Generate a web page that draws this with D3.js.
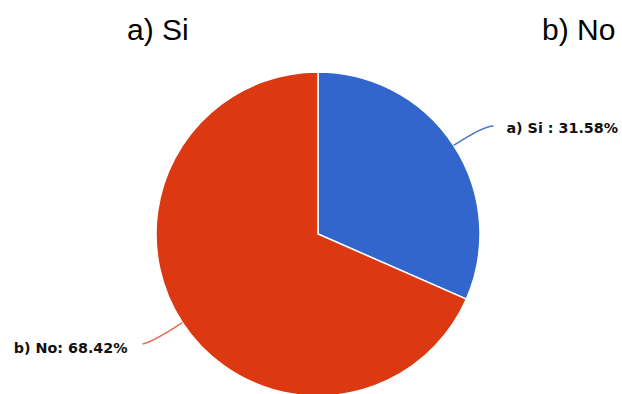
<!DOCTYPE html>
<html>
<head>
<meta charset="utf-8">
<script src="https://cdn.jsdelivr.net/npm/d3@7"></script>
<style>
  html, body { margin: 0; padding: 0; background: #fff; }
  svg { display: block; }
</style>
</head>
<body>
<svg id="chart" width="622" height="394"></svg>
<script>
// Survey answers and their shares (percent)
const categories = ["a) Si", "b) No"];
const shares = [31.58, 68.42];
const sliceLabels = ["a) Si : 31.58%", "b) No: 68.42%"];
const colors = ["#3366cc", "#dc3912"];

const width = 622, height = 394;
const cx = 318, cy = 234, radius = 162;

const svg = d3.select("#chart");

// Legend across the top
const legendX = d3.scaleOrdinal().domain(categories).range([127, 542]);
svg.append("g").selectAll("text")
  .data(categories)
  .join("text")
  .attr("x", d => legendX(d))
  .attr("y", 40)
  .attr("font-family", "Liberation Sans, Arial, sans-serif")
  .attr("font-size", 30)
  .attr("fill", "#000")
  .text(d => d);

const pie = d3.pie().sort(null).value(d => d)(shares);
const arc = d3.arc().innerRadius(0).outerRadius(radius);

const g = svg.append("g").attr("transform", `translate(${cx},${cy})`);

g.selectAll("path.slice")
  .data(pie)
  .join("path")
  .attr("class", "slice")
  .attr("d", arc)
  .attr("fill", (d, i) => colors[i])
  .attr("stroke", "#fff")
  .attr("stroke-width", 1.5);

// Leader lines and value labels
function polar(r, a) { return [r * Math.sin(a), -r * Math.cos(a)]; }

pie.forEach((d, i) => {
  const mid = (d.startAngle + d.endAngle) / 2;
  const side = Math.sin(mid) >= 0 ? 1 : -1;
  const p0 = polar(radius, mid);
  const p1 = polar(radius * 1.22, mid);
  const p2 = [p1[0] + side * 10, p1[1] + (side > 0 ? 0 : 2)];
  g.append("path")
    .attr("d", `M${p0[0]},${p0[1]} Q${p1[0]},${p1[1]} ${p2[0]},${p2[1]}`)
    .attr("fill", "none")
    .attr("stroke", colors[i])
    .attr("stroke-opacity", i === 0 ? 0.9 : 0.75)
    .attr("stroke-width", 1.5);
  g.append("text")
    .attr("x", p2[0] + side * (side > 0 ? 13 : 15))
    .attr("y", p2[1] + (side > 0 ? 7 : 9))
    .attr("text-anchor", side > 0 ? "start" : "end")
    .attr("font-family", "DejaVu Sans, Verdana, sans-serif")
    .attr("font-weight", "bold")
    .attr("font-size", 14.3)
    .attr("fill", "#111")
    .text(sliceLabels[i]);
});
</script>
</body>
</html>
